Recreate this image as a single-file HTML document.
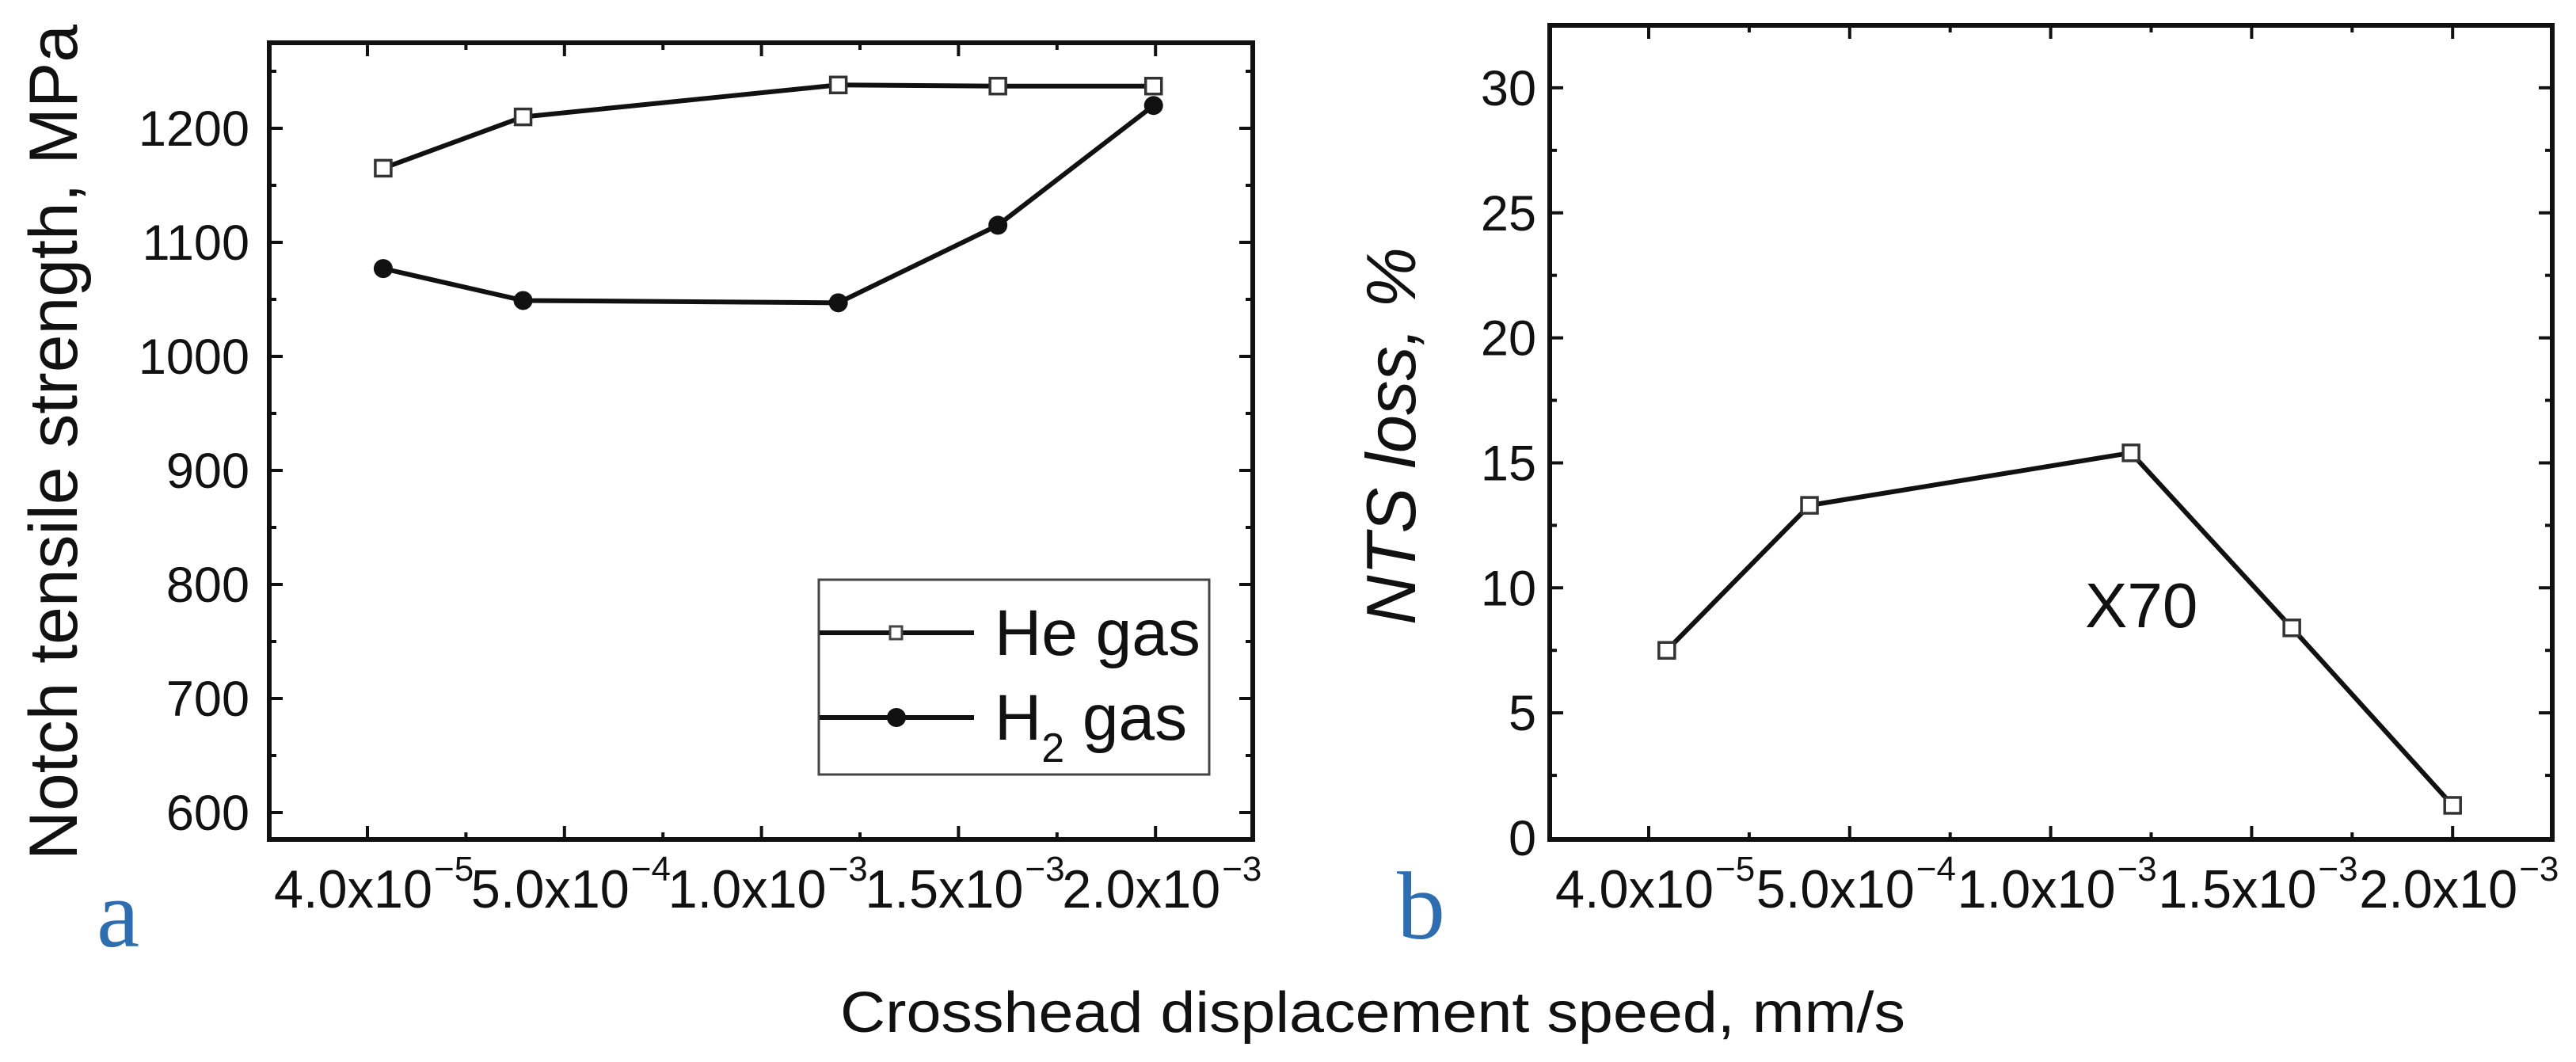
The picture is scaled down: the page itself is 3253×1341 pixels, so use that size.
<!DOCTYPE html>
<html><head><meta charset="utf-8">
<style>
html,body{margin:0;padding:0;background:#fff;}
svg{display:block;}
text{font-family:"Liberation Sans",Arial,sans-serif;fill:#111;}
</style></head>
<body>
<svg id="fig" width="3253" height="1341" viewBox="0 0 3253 1341" xmlns="http://www.w3.org/2000/svg">
<rect width="3253" height="1341" fill="#fff"/>
<g id="pa"></g>
<g id="pb"></g>
<text x="122" y="1195" style="font-family:'Liberation Serif',serif;fill:#2e6db0" font-size="122">a</text>
<text x="1764" y="1185" style="font-family:'Liberation Serif',serif;fill:#2e6db0" font-size="122">b</text>
<text x="1061" y="1303" font-size="72" textLength="1345" lengthAdjust="spacingAndGlyphs" fill="#222">Crosshead displacement speed, mm/s</text>
<text transform="translate(97,1086) rotate(-90)" font-size="86" textLength="1055" lengthAdjust="spacingAndGlyphs">Notch tensile strength, MPa</text>
<text transform="translate(1787,789) rotate(-90)" font-size="88" font-style="italic" textLength="477" lengthAdjust="spacingAndGlyphs">NTS loss, %</text>
<text x="2633" y="792" font-size="80">X70</text>
</svg>
<script>
// x positions in tick-index units (0 = 4.0x10^-5 ... 4 = 2.0x10^-3)
const xTickMain = ["4.0x10", "5.0x10", "1.0x10", "1.5x10", "2.0x10"];
const xTickExp = ["-5", "-4", "-3", "-3", "-3"];
const xPosA = [0.08, 0.79, 2.39, 3.2, 3.99];
const heGas = [1165, 1210, 1238, 1237, 1237];
const h2Gas = [1077, 1049, 1047, 1115, 1220];
const yTicksA = [600, 700, 800, 900, 1000, 1100, 1200];
const xPosB = [0.09, 0.8, 2.4, 3.2, 4.0];
const ntsLoss = [7.5, 13.3, 15.4, 8.4, 1.3];
const yTicksB = [0, 5, 10, 15, 20, 25, 30];

const NS = "http://www.w3.org/2000/svg";
function mk(parent, tag, attrs){
  const e = document.createElementNS(NS, tag);
  for (const k in attrs) e.setAttribute(k, attrs[k]);
  parent.appendChild(e);
  return e;
}
function panel(g, box, xScale, yScale, yTicks, yMinorStep, yMin, yMax, labelRight, key){
  const fr = mk(g, "rect", {x:box.l, y:box.t, width:box.r-box.l, height:box.b-box.t, fill:"none", stroke:"#111", "stroke-width":6});
  
  
  for (let v = yMin; v <= yMax + 1e-9; v += yMinorStep){
    const y = yScale(v);
    if (y < box.t + 4 || y > box.b - 4) continue;
    const major = yTicks.some(t => Math.abs(t - v) < 1e-6);
    const L = major ? 17 : 9;
    mk(g, "line", {x1:box.l, x2:box.l+L, y1:y, y2:y, stroke:"#111", "stroke-width":4});
    mk(g, "line", {x1:box.r, x2:box.r-L, y1:y, y2:y, stroke:"#111", "stroke-width":4});
  }
  yTicks.forEach(v => {
    const t = mk(g, "text", {x:labelRight, y:yScale(v)+22, "font-size":63, "text-anchor":"end"});
    
    
    t.textContent = v;
  });
  for (let i = 0; i <= 4.5; i += 0.5){
    const x = xScale(i);
    if (x > box.r - 4) continue;
    const major = Math.abs(i - Math.round(i)) < 1e-6;
    const L = major ? 17 : 9;
    mk(g, "line", {x1:x, x2:x, y1:box.b, y2:box.b-L, stroke:"#111", "stroke-width":4});
    mk(g, "line", {x1:x, x2:x, y1:box.t, y2:box.t+L, stroke:"#111", "stroke-width":4});
  }
  xTickMain.forEach((m, i) => {
    const t = mk(g, "text", {x:xScale(i)-118, y:1146, "font-size":68, textLength:200, lengthAdjust:"spacingAndGlyphs"});
    
    
    t.textContent = m;
    const s = mk(g, "text", {x:xScale(i)+84, y:1112, "font-size":44});
    
    
    s.textContent = xTickExp[i].replace("-", "\u2212");
  });
}
function series(g, xs, ys, xScale, yScale, kind, name){
  const pts = xs.map((x, i) => xScale(x) + "," + yScale(ys[i])).join(" ");
  const pl = mk(g, "polyline", {points:pts, fill:"none", stroke:"#111", "stroke-width":6, "stroke-linejoin":"round"});
  
  
  xs.forEach((x, i) => {
    const cx = xScale(x), cy = yScale(ys[i]);
    let m;
    if (kind === "square") m = mk(g, "rect", {x:cx-10, y:cy-10, width:20, height:20, fill:"#fff", stroke:"#333", "stroke-width":3.5});
    else m = mk(g, "circle", {cx:cx, cy:cy, r:12, fill:"#111"});
    
    
  });
}

const ga = document.getElementById("pa");
const boxA = {l:340, r:1582, t:54, b:1060};
const xA = i => 464 + i * 248.8;
const yA = v => 162 + (1200 - v) * 1.44;
panel(ga, boxA, xA, yA, yTicksA, 50, 550, 1300, 315, "panel-a");
series(ga, xPosA, heGas, xA, yA, "square", "he-gas");
series(ga, xPosA, h2Gas, xA, yA, "circle", "h2-gas");
const lg = mk(ga, "g", {});


mk(lg, "rect", {x:1034, y:732, width:493, height:246, fill:"#fff", stroke:"#444", "stroke-width":3});
mk(lg, "line", {x1:1035, x2:1230, y1:799, y2:799, stroke:"#111", "stroke-width":6});
const lm1 = mk(lg, "rect", {x:1124, y:791, width:15, height:16, fill:"#fff", stroke:"#444", "stroke-width":3});


mk(lg, "line", {x1:1035, x2:1230, y1:906, y2:906, stroke:"#111", "stroke-width":6});
const lm2 = mk(lg, "circle", {cx:1132, cy:906, r:12, fill:"#111"});


const lt1 = mk(lg, "text", {x:1256, y:827, "font-size":82});


lt1.textContent = "He gas";
const lt2 = mk(lg, "text", {x:1256, y:934, "font-size":82});


lt2.innerHTML = 'H<tspan font-size="52" dy="28">2</tspan><tspan dy="-28"> gas</tspan>';

const gb = document.getElementById("pb");
const boxB = {l:1957, r:3223, t:32, b:1060};
const xB = i => 2082 + i * 253.8;
const yB = v => 1058 - v * 31.57;
panel(gb, boxB, xB, yB, yTicksB, 2.5, 0, 32.5, 1940, "panel-b");
series(gb, xPosB, ntsLoss, xB, yB, "square", "nts-loss");
</script>
</body></html>
